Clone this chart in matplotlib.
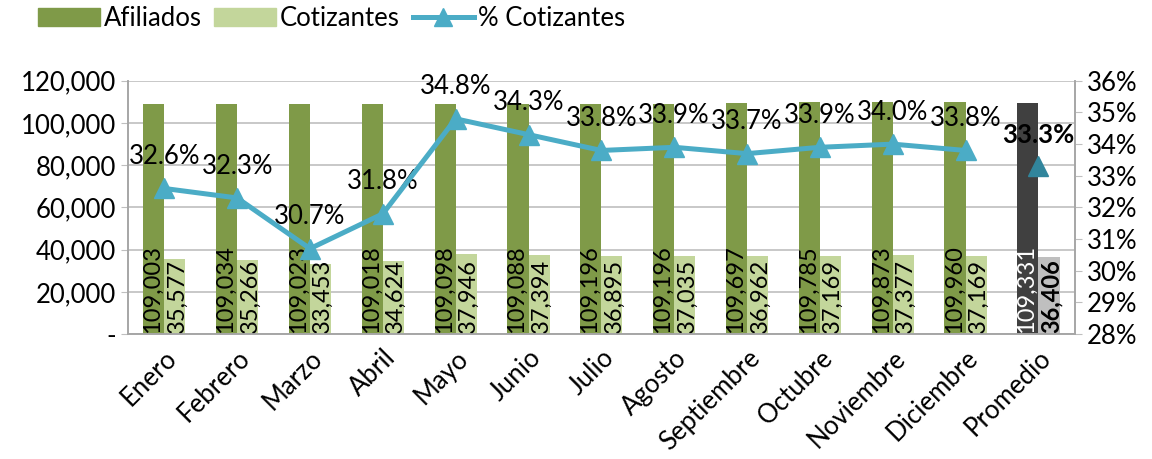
import matplotlib.pyplot as plt
import numpy as np
from matplotlib.patches import Patch
from matplotlib.lines import Line2D
from matplotlib.ticker import FuncFormatter, MultipleLocator

plt.rcParams['font.family'] = ['Lato', 'DejaVu Sans']

meses = ['Enero', 'Febrero', 'Marzo', 'Abril', 'Mayo', 'Junio', 'Julio',
         'Agosto', 'Septiembre', 'Octubre', 'Noviembre', 'Diciembre', 'Promedio']
afiliados = [109003, 109034, 109023, 109018, 109098, 109088, 109196,
             109196, 109697, 109785, 109873, 109960, 109331]
cotizantes = [35577, 35266, 33453, 34624, 37946, 37394, 36895,
              37035, 36962, 37169, 37377, 37169, 36406]
pct_cotizantes = [32.6, 32.3, 30.7, 31.8, 34.8, 34.3, 33.8,
                  33.9, 33.7, 33.9, 34.0, 33.8, 33.3]

verde = '#7F9A48'
verde_claro = '#C3D69B'
azul = '#4BACC6'
gris_grid = '#BFBFBF'

fig = plt.figure(figsize=(11.52, 4.59), dpi=100)
ax = fig.add_axes([0.111, 0.272, 0.822, 0.552])
ax2 = ax.twinx()

x = np.arange(len(meses))
w = 0.29
col_af = [verde] * 12 + ['#404040']
col_co = [verde_claro] * 12 + ['#BFBFBF']
ax.bar(x - w / 2, afiliados, w, color=col_af, zorder=2)
ax.bar(x + w / 2, cotizantes, w, color=col_co, zorder=2)

fs = 18.5
fs_bar = 17
for i in range(len(meses)):
    prom = i == len(meses) - 1
    ax.text(x[i] - w / 2 - 0.015, 600, f'{afiliados[i]:,}', rotation=90, ha='center', va='bottom',
            fontsize=fs_bar, color='white' if prom else 'black', zorder=3)
    ax.text(x[i] + w / 2 + 0.03, 600, f'{cotizantes[i]:,}', rotation=90, ha='center', va='bottom',
            fontsize=fs_bar, fontweight='bold' if prom else 'normal', zorder=3)

ax.set_ylim(0, 120000)
ax.set_xlim(-0.5, len(meses) - 0.5)
ax.yaxis.set_major_locator(MultipleLocator(20000))
ax.yaxis.set_major_formatter(FuncFormatter(lambda v, p: '-' if v == 0 else f'{v:,.0f}'))
ax.grid(axis='y', color=gris_grid, linewidth=1.2, zorder=0)
ax.set_axisbelow(True)
ax.set_xticks(x)
ax.set_xticklabels(meses, rotation=45, ha='right', rotation_mode='anchor', fontsize=fs)
ax.tick_params(axis='x', length=0, pad=8)
ax.tick_params(axis='y', labelsize=fs, color=gris_grid, length=5)

ax2.plot(x[:-1], pct_cotizantes[:-1], color=azul, linewidth=3.6, marker='^',
         markersize=15, zorder=4)
ax2.plot(x[-1:], pct_cotizantes[-1:], linestyle='none', marker='^', markersize=15,
         color='#31859C', zorder=4)
for i, v in enumerate(pct_cotizantes):
    prom = i == len(meses) - 1
    ax2.annotate(f'{v:.1f}%', (x[i], v), xytext=(0, 14), textcoords='offset points',
                 ha='center', va='bottom', fontsize=fs,
                 fontweight='bold' if prom else 'normal')
ax2.set_ylim(28, 36)
ax2.yaxis.set_major_locator(MultipleLocator(1))
ax2.yaxis.set_major_formatter(FuncFormatter(lambda v, p: f'{v:.0f}%'))
ax2.tick_params(axis='y', labelsize=fs, color=gris_grid, length=5)

for a in (ax, ax2):
    a.spines['top'].set_visible(False)
    for s in ('left', 'right', 'bottom'):
        a.spines[s].set_color('#A6A6A6')
        a.spines[s].set_linewidth(1.2)

handles = [Patch(color=verde), Patch(color=verde_claro),
           Line2D([0], [0], color=azul, linewidth=3.6, marker='^', markersize=13)]
fig.legend(handles, ['Afiliados', 'Cotizantes', '% Cotizantes'], loc='center left',
           bbox_to_anchor=(0.033, 0.96), ncol=3, frameon=False, fontsize=fs,
           handlelength=2.4, handleheight=0.7, handletextpad=0.15, columnspacing=0.5,
           borderaxespad=0, borderpad=0)

fig.savefig('out.png', dpi=100)
